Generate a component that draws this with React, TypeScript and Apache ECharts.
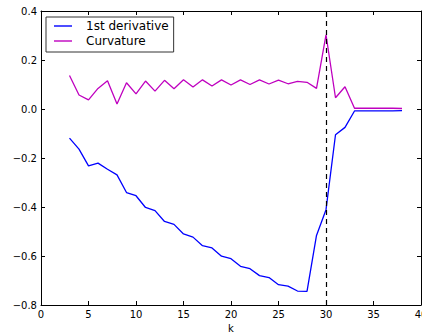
import React, { useEffect, useRef } from "react";
import * as echarts from "echarts";

const ks = [3, 4, 5, 6, 7, 8, 9, 10, 11, 12, 13, 14, 15, 16, 17, 18, 19, 20, 21, 22, 23, 24, 25, 26, 27, 28, 29, 30, 31, 32, 33, 34, 35, 36, 37, 38];
const firstDerivative = [
  -0.119, -0.164, -0.232, -0.221, -0.246, -0.269, -0.341, -0.354, -0.402, -0.415,
  -0.459, -0.471, -0.51, -0.523, -0.558, -0.567, -0.601, -0.611, -0.642, -0.652,
  -0.68, -0.688, -0.717, -0.723, -0.743, -0.744, -0.516, -0.411, -0.105, -0.075,
  -0.008, -0.008, -0.008, -0.008, -0.008, -0.007,
];
const curvature = [
  0.137, 0.057, 0.037, 0.084, 0.115, 0.02, 0.107, 0.062, 0.114, 0.073,
  0.117, 0.083, 0.119, 0.09, 0.119, 0.094, 0.119, 0.098, 0.119, 0.1,
  0.119, 0.102, 0.118, 0.103, 0.113, 0.109, 0.084, 0.303, 0.046, 0.091,
  0.003, 0.003, 0.003, 0.003, 0.003, 0.002,
];
const seriesNames = ["1st derivative", "Curvature"];
const markX = 30;

const FONT = "DejaVu Sans";

export default function App() {
  const ref = useRef<HTMLDivElement>(null);
  useEffect(() => {
    if (!ref.current) return;
    const chart = echarts.init(ref.current, null, { renderer: "svg" });
    const fmtY = (v: number) => (v < 0 ? "\u2212" : "") + Math.abs(v).toFixed(1);
    const axisCommon = {
      axisLine: { show: true, onZero: false, lineStyle: { color: "#000", width: 1 } },
      axisTick: { show: true, inside: true, length: 4, lineStyle: { color: "#000" } },
      splitLine: { show: false },
    };
    chart.setOption({
      animation: false,
      grid: { left: 41, right: 1, top: 11, bottom: 27, containLabel: false, outerBoundsMode: "none" },
      legend: {
        left: 46,
        top: 17,
        orient: "vertical",
        data: seriesNames,
        icon: "path://M0,0H18V1.4H0Z",
        symbolKeepAspect: true,
        itemWidth: 18,
        itemHeight: 14,
        itemGap: 3,
        padding: [3, 5, 5, 8],
        borderColor: "#333",
        borderWidth: 1,
        borderRadius: 0,
        backgroundColor: "#fff",
        textStyle: { fontFamily: FONT, fontSize: 12, color: "#000", padding: [0, 0, 0, 9] },
      },
      xAxis: [
        {
          type: "value",
          min: 0,
          max: 40,
          interval: 5,
          position: "bottom",
          name: "k",
          nameLocation: "middle",
          nameGap: 16,
          nameTextStyle: { fontFamily: FONT, fontSize: 10, color: "#000" },
          axisLabel: { fontFamily: FONT, fontSize: 10, color: "#000", margin: 4 },
          ...axisCommon,
        },
        {
          type: "value",
          min: 0,
          max: 40,
          interval: 5,
          position: "top",
          axisLabel: { show: false },
          ...axisCommon,
        },
      ],
      yAxis: [
        {
          type: "value",
          min: -0.8,
          max: 0.4,
          interval: 0.2,
          position: "left",
          axisLabel: { fontFamily: FONT, fontSize: 10, color: "#000", margin: 4, formatter: fmtY },
          ...axisCommon,
        },
        {
          type: "value",
          min: -0.8,
          max: 0.4,
          interval: 0.2,
          position: "right",
          axisLabel: { show: false },
          ...axisCommon,
        },
      ],
      series: [
        {
          name: seriesNames[0],
          type: "line",
          xAxisIndex: 0,
          yAxisIndex: 0,
          data: ks.map((k, i) => [k, firstDerivative[i]]),
          showSymbol: false,
          symbol: "none",
          color: "#0000ff",
          lineStyle: { color: "#0000ff", width: 1.3 },
          markLine: {
            silent: true,
            symbol: ["none", "none"],
            label: { show: false },
            lineStyle: { color: "#000", type: [5, 4], width: 1.2 },
            data: [{ xAxis: markX }],
          },
        },
        {
          name: seriesNames[1],
          type: "line",
          xAxisIndex: 0,
          yAxisIndex: 0,
          data: ks.map((k, i) => [k, curvature[i]]),
          showSymbol: false,
          symbol: "none",
          color: "#bf00bf",
          lineStyle: { color: "#bf00bf", width: 1.3 },
        },
      ],
    });
    return () => chart.dispose();
  }, []);
  return (
    <div
      ref={ref}
      style={{ position: "fixed", left: 0, top: 0, width: 422, height: 332, background: "#fff" }}
    />
  );
}
